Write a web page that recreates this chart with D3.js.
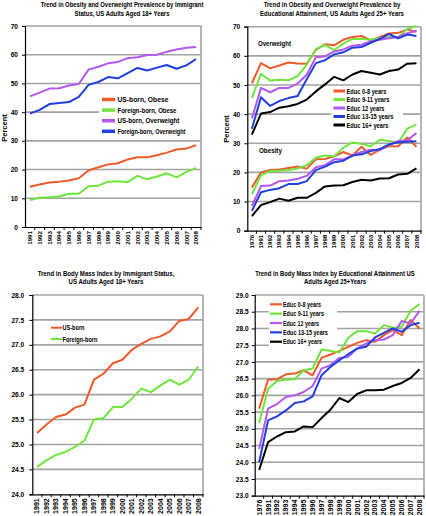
<!DOCTYPE html>
<html><head><meta charset="utf-8">
<script src="https://cdn.jsdelivr.net/npm/d3@7"></script>
<style>
body{margin:0;background:#fff;}
text{font-family:"Liberation Sans",Arial,sans-serif;font-weight:bold;fill:#000;}
</style></head>
<body><svg id="c" width="426" height="516"></svg>
<script>
// ---------- DATA ----------
const yearsImm = ["1991","1992","1993","1994","1995","1996","1997","1998","1999","2000","2001","2002","2003","2004","2005","2006","2007","2008"];
const yearsEdu = ["1976","1991","1992","1993","1994","1995","1996","1997","1998","1999","2000","2001","2002","2003","2004","2005","2006","2007","2008"];

// Panel 1: prevalence by immigrant status (%)
const usObese = [14.0,14.8,15.5,15.8,16.2,17.0,19.7,20.8,21.8,22.2,23.5,24.3,24.3,25.0,25.9,27.0,27.3,28.5];
const fbObese = [9.4,10.2,10.4,10.6,11.6,11.6,14.2,14.4,15.8,15.9,15.6,17.8,16.6,17.6,18.7,17.3,19.2,20.6];
const usOverweight = [45.5,46.8,48.2,48.3,49.3,49.8,54.8,55.8,57.0,57.5,58.8,59.1,59.9,60.0,61.0,61.8,62.4,62.7];
const fbOverweight = [39.5,40.8,42.8,43.2,43.5,45.3,49.5,50.5,52.2,51.8,53.6,55.4,54.5,55.5,56.4,55.1,56.3,58.5];

// Panel 2: prevalence by education (%)
const ow0_8   = [50.6,57.5,55.7,56.7,57.7,57.4,57.3,62.0,64.0,63.6,65.5,66.5,66.8,65.3,66.5,67.7,67.9,69.0,68.3];
const ow9_11  = [45.5,53.8,51.5,51.8,51.6,53.0,57.0,62.3,63.8,62.0,64.2,65.8,65.8,65.6,66.0,66.5,66.4,69.2,70.3];
const ow12    = [38.5,49.0,47.5,49.0,49.0,50.5,53.5,59.5,59.8,61.5,62.2,63.5,63.8,65.0,65.5,66.0,66.5,67.8,68.5];
const ow13_15 = [35.0,45.8,42.8,44.5,45.5,46.2,52.0,57.5,58.5,60.5,61.2,62.8,63.0,64.5,65.8,67.5,66.0,67.3,66.8];
const ow16    = [33.0,40.2,40.7,42.2,42.7,43.5,45.0,47.8,50.2,52.8,51.6,53.6,54.8,54.2,53.6,54.8,55.3,57.3,57.5];
const ob0_8   = [14.8,20.0,20.8,21.0,21.5,22.0,21.3,24.5,24.6,25.5,27.0,25.8,28.8,26.0,27.8,29.0,29.0,32.0,28.8];
const ob9_11  = [12.5,19.0,20.5,20.6,20.8,21.3,22.5,25.0,25.8,25.5,28.5,30.3,29.8,29.0,31.2,30.8,30.2,35.0,36.5];
const ob12    = [8.5,15.3,15.5,17.0,17.2,17.8,18.8,21.8,22.5,24.5,24.5,25.8,27.0,27.8,27.6,29.5,30.8,31.0,33.5];
const ob13_15 = [6.8,13.2,14.0,14.6,16.0,16.0,17.0,20.8,22.0,23.5,24.0,25.8,26.2,27.3,28.0,29.6,30.3,30.5,30.7];
const ob16    = [5.0,8.8,9.8,11.0,10.3,11.3,11.3,13.0,15.2,15.5,15.6,16.7,17.5,17.2,17.9,18.0,19.3,19.5,21.4];

// Panel 3: BMI by immigrant status
const bmiUS = [25.23,25.40,25.55,25.60,25.74,25.80,26.30,26.42,26.63,26.70,26.90,27.02,27.12,27.17,27.27,27.48,27.52,27.75];
const bmiFB = [24.55,24.68,24.79,24.85,24.95,25.08,25.50,25.53,25.75,25.75,25.92,26.12,26.05,26.18,26.30,26.20,26.30,26.57];

// Panel 4: BMI by education
const bmi0_8   = [25.60,26.47,26.48,26.63,26.65,26.75,26.60,27.12,27.22,27.33,27.45,27.57,27.65,27.60,27.80,27.95,27.80,28.25,28.00];
const bmi9_11  = [25.17,26.20,26.43,26.47,26.48,26.75,26.80,27.37,27.33,27.28,27.72,27.92,27.92,27.85,28.10,28.02,28.05,28.53,28.73];
const bmi12    = [24.40,25.60,25.74,25.95,26.00,26.10,26.28,26.80,26.90,27.12,27.15,27.40,27.55,27.65,27.67,27.80,28.22,28.15,28.53];
const bmi13_15 = [24.00,25.25,25.37,25.55,25.77,25.82,25.97,26.60,26.85,27.05,27.23,27.40,27.45,27.73,27.87,28.00,27.90,28.10,28.17];
const bmi16    = [23.77,24.60,24.77,24.90,24.92,25.07,25.05,25.32,25.57,25.92,25.80,26.04,26.15,26.15,26.17,26.28,26.37,26.52,26.78];

const ticksPct = [0,10,20,30,40,50,60,70];
const ticksBmiImm = [24.0,24.5,25.0,25.5,26.0,26.5,27.0,27.5,28.0];
const ticksBmiEdu = [23.0,23.5,24.0,24.5,25.0,25.5,26.0,26.5,27.0,27.5,28.0,28.5,29.0];

const eduNames = ["Educ 0-8 years","Educ 9-11 years","Educ 12 years","Educ 13-15 years","Educ 16+ years"];
const immNames = ["US-born, Obese","Foreign-born, Obese","US-born, Overweight","Foreign-born, Overweight"];
const bmiImmNames = ["US-born","Foreign-born"];

// ---------- STYLE ----------
const C_OR = "#ef5a2a", C_GR = "#6ee63c", C_PU = "#b457ee", C_BL = "#1f3fe0", C_BK = "#000000";
const GRID = "#a3a3a3";

const svg = d3.select("#c");
svg.append("rect").attr("width",426).attr("height",516).attr("fill","#fff");

// text horizontally scaled to a target width (narrow font look)
function fitText(g, str, x, y, w, size, anchor){
  const wrap = g.append("g");
  const t = wrap.append("text").attr("x",0).attr("y",0).attr("font-size",size)
    .attr("text-anchor",anchor||"start").text(str);
  const nat = t.node().getComputedTextLength();
  const sx = (w && nat > 0) ? w/nat : 1;
  wrap.attr("transform",`translate(${x},${y}) scale(${sx},1)`);
  return t;
}

function panel(cfg){
  const g = svg.append("g");
  const x = d3.scaleBand().domain(cfg.cats).range([cfg.xl, cfg.xr]).padding(0);
  const y = d3.scaleLinear().domain(cfg.yDomain).range([cfg.yb, cfg.yt]);
  const cx = c => x(c) + x.bandwidth()/2;

  // grid lines
  g.selectAll(".grid").data(cfg.ticks.filter(t => t > cfg.yDomain[0])).enter().append("line")
    .attr("x1",cfg.xl).attr("x2",cfg.xr).attr("y1",d=>y(d)).attr("y2",d=>y(d))
    .attr("stroke",GRID).attr("stroke-width",1.6);
  // right border
  g.append("line").attr("x1",cfg.xr).attr("x2",cfg.xr).attr("y1",cfg.yt).attr("y2",cfg.yb)
    .attr("stroke",GRID).attr("stroke-width",1.6);

  // legend box
  if (cfg.legend.box){
    const b = cfg.legend.box;
    g.append("rect").attr("x",b[0]).attr("y",b[1]).attr("width",b[2]).attr("height",b[3]).attr("fill","#fff");
  }

  // lines
  const line = d3.line().x((d,i)=>cx(cfg.cats[i])).y(d=>y(d));
  cfg.series.forEach(s=>{
    g.append("path").datum(s.values).attr("d",line).attr("fill","none")
      .attr("stroke",s.color).attr("stroke-width",2).attr("stroke-linejoin","round");
  });

  // axes
  const ya = d3.axisLeft(y).tickValues(cfg.ticks).tickFormat(cfg.fmt).tickSize(3).tickPadding(cfg.yPad||3);
  const yg = g.append("g").attr("transform",`translate(${cfg.xl},0)`).call(ya);
  yg.select(".domain").attr("stroke","#000").attr("stroke-width",1.2);
  yg.selectAll("text").attr("font-size",6.6).style("font-family","'Liberation Sans',Arial,sans-serif").attr("font-weight","bold");

  const xa = d3.axisBottom(x).tickSize(0).tickPadding(4);
  const xg = g.append("g").attr("transform",`translate(0,${cfg.yb})`).call(xa);
  xg.select(".domain").attr("stroke","#000").attr("stroke-width",1.2);
  xg.selectAll("text").attr("font-size",cfg.xFont||6.2).attr("transform","rotate(-90)")
    .attr("text-anchor","end").attr("dy","0.35em")
    .attr("x",-4).attr("y",0)
    .style("font-family","'Liberation Sans',Arial,sans-serif");
  // boundary tick marks
  g.selectAll(".bt").data(cfg.cats).enter().append("line")
    .attr("x1",d=>x(d)+x.bandwidth()).attr("x2",d=>x(d)+x.bandwidth())
    .attr("y1",cfg.yb).attr("y2",cfg.yb+3).attr("stroke","#000").attr("stroke-width",1);

  // title
  cfg.title.forEach((t,i)=>fitText(g,t,cfg.titleX,cfg.titleY[i],cfg.titleW[i],7,"middle"));

  // y label
  if (cfg.ylabel){
    g.append("text").attr("transform",`translate(${cfg.ylabel[0]},${cfg.ylabel[1]}) rotate(-90)`)
      .attr("text-anchor","middle").attr("font-size",7.5).text("Percent");
  }

  // legend
  const L = cfg.legend;
  cfg.series.slice(0, L.names.length).forEach((s,i)=>{
    const yy = L.y0 + i*L.dy;
    g.append("line").attr("x1",L.mx0).attr("x2",L.mx1).attr("y1",yy).attr("y2",yy)
      .attr("stroke",s.color).attr("stroke-width",L.mw||3);
    fitText(g, L.names[i], L.tx, yy+2.5, L.widths[i], 6.8, "start");
  });

  // annotations
  (cfg.notes||[]).forEach(n=>fitText(g,n[0],n[1],n[2],n[3],7,"start"));
}

// Panel 1
panel({
  cats: yearsImm, xl:25, xr:201, yDomain:[0,70], yb:227, yt:26, ticks:ticksPct, fmt:d3.format("d"), yPad:4,
  series:[{values:usObese,color:C_OR},{values:fbObese,color:C_GR},{values:usOverweight,color:C_PU},{values:fbOverweight,color:C_BL}],
  title:["Trend in Obesity and Overweight Prevalence by Immigrant","Status, US Adults Aged 18+ Years"],
  titleX:122, titleY:[7,15.5], titleW:[163,95],
  ylabel:[7,128],
  legend:{names:immNames, y0:99.5, dy:10.6, mx0:102, mx1:115, tx:117.5, widths:[51,59,62,68], box:[99,93,101,44], mw:3.5}
});

// Panel 2
panel({
  cats: yearsEdu, xl:247.3, xr:421, yDomain:[0,70], yb:230.7, yt:26.7, ticks:ticksPct, fmt:d3.format("d"), yPad:4,
  series:[{values:ow0_8,color:C_OR},{values:ow9_11,color:C_GR},{values:ow12,color:C_PU},{values:ow13_15,color:C_BL},{values:ow16,color:C_BK},
          {values:ob0_8,color:C_OR},{values:ob9_11,color:C_GR},{values:ob12,color:C_PU},{values:ob13_15,color:C_BL},{values:ob16,color:C_BK}],
  title:["Trend in Obesity and Overweight Prevalence by","Educational Attainment, US Adults Aged 25+ Years"],
  titleX:332, titleY:[7,15.5], titleW:[137,144],
  ylabel:[229,129],
  legend:{names:eduNames, y0:91, dy:8.5, mx0:333.5, mx1:345, tx:346.5, widths:[40,43,38,47,42], box:[331,86,72,44], mw:3},
  notes:[["Overweight",258,45.5,33],["Obesity",259,152.5,23]]
});

// Panel 3
panel({
  cats: yearsImm, xl:32.3, xr:203, yDomain:[24,28], yb:494.3, yt:295, ticks:ticksBmiImm, fmt:d3.format(".1f"), yPad:5, xFont:7,
  series:[{values:bmiUS,color:C_OR},{values:bmiFB,color:C_GR}],
  title:["Trend in Body Mass Index by Immigrant Status,","US Adults Aged 18+ Years"],
  titleX:106, titleY:[276,284], titleW:[137,75],
  legend:{names:bmiImmNames, y0:327.7, dy:11.3, mx0:51, mx1:62, tx:62.5, widths:[22,35], mw:2}
});

// Panel 4
panel({
  cats: yearsEdu, xl:254.7, xr:424, yDomain:[23,29], yb:495.7, yt:295, ticks:ticksBmiEdu, fmt:d3.format(".1f"), yPad:3, xFont:7,
  series:[{values:bmi0_8,color:C_OR},{values:bmi9_11,color:C_GR},{values:bmi12,color:C_PU},{values:bmi13_15,color:C_BL},{values:bmi16,color:C_BK}],
  title:["Trend in Body Mass Index by Educational Attainment US","Adults Aged 25+Years"],
  titleX:335, titleY:[275.5,283.5], titleW:[160,62],
  legend:{names:eduNames, y0:304.3, dy:9.35, mx0:270, mx1:282, tx:283, widths:[38,41,36,45,39], box:[269,299,68,47], mw:2.2}
});
</script></body></html>
